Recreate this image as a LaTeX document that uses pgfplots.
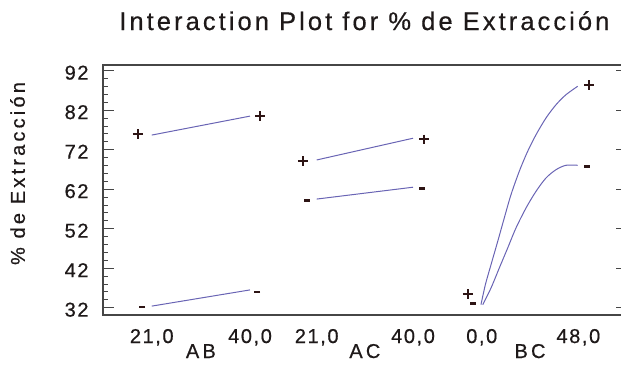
\documentclass[border=0pt]{standalone}
\usepackage{fontspec}
\setmainfont{Liberation Sans}
\newfontfamily\spfont[LetterSpace=8,FakeBold=0.6]{Liberation Sans}
\newfontfamily\titlefont[LetterSpace=12,FakeBold=0.5]{Liberation Sans}
\newfontfamily\labfont[LetterSpace=16,FakeBold=0.6]{Liberation Sans}
\usepackage{pgfplots}
\pgfplotsset{compat=1.18}
\definecolor{curve}{RGB}{105,100,180}
\definecolor{framec}{RGB}{70,70,70}
\definecolor{mk}{RGB}{45,20,20}
\definecolor{txt}{RGB}{30,25,25}
\begin{document}
\begin{tikzpicture}
\path[use as bounding box] (0,0) rectangle (621bp,366bp);
\begin{axis}[
  at={(102.7bp,51bp)}, anchor=south west,
  scale only axis, width=519.3bp, height=250bp,
  xmin=-0.503, xmax=4.8236, ymin=30.15, ymax=93.44,
  clip=false,
  axis line style={framec, line width=1.6bp},
  ytick={32,42,...,92}, minor y tick num=4,
  ytick pos=left,
  major tick length=11bp, minor tick length=5bp,
  every tick/.style={framec, line width=0.9bp},
  /pgf/number format/assume math mode=true,
  yticklabel style={font=\spfont\fontsize{20bp}{24bp}\selectfont, text=txt, anchor=east, inner sep=0pt, xshift=-14bp, yshift=-2bp},
  xtick={0,1.008,1.692,2.680,3.385,4.376},
  xticklabels={{21,0},{40,0},{21,0},{40,0},{0,0},{48,0}},
  xtick style={draw=none},
  xticklabel style={font=\spfont\fontsize{20bp}{24bp}\selectfont, text=txt, anchor=base, inner sep=0pt, yshift=-28bp},
  title={Interaction Plot for \% de Extracción},
  title style={font=\titlefont\fontsize{25.5bp}{30bp}\selectfont, text=txt, anchor=base, inner sep=0pt, at={(0.5,1)}, yshift=29bp, xshift=2bp},
  ylabel={\% de Extracción},
  ylabel style={font=\labfont\fontsize{20bp}{24bp}\selectfont, text=txt, at={(axis description cs:-0.164,0.566)}, anchor=center, inner sep=0pt},
]
% AB
\addplot[curve, line width=1bp] coordinates {(0,75.7) (1.008,80.5)};
\addplot[curve, line width=1bp] coordinates {(0,32.4) (1.008,36.5)};
% AC
\addplot[curve, line width=1bp] coordinates {(1.692,69.4) (2.680,74.9)};
\addplot[curve, line width=1bp] coordinates {(1.692,59.5) (2.680,62.5)};
% BC
\addplot[curve, line width=1bp, smooth] coordinates {
 (3.377,32.76) (3.422,37.82) (3.480,42.89) (3.549,48.81) (3.616,54.71)
 (3.685,60.61) (3.770,66.53) (3.856,71.59) (3.942,75.80) (4.044,80.03)
 (4.147,83.39) (4.249,85.92) (4.369,88.05)};
\addplot[curve, line width=1bp, smooth] coordinates {
 (3.395,32.76) (3.480,36.99) (3.565,42.05) (3.651,47.11) (3.736,52.18)
 (3.839,57.24) (3.942,61.47) (4.044,64.84) (4.147,66.94) (4.249,68.05) (4.369,68.05)};
% plus markers
\addplot[only marks, mark=+, mark size=4.8bp, mk, line width=2bp] coordinates {
 (-0.144,75.9) (1.111,80.5) (1.549,69.1) (2.793,74.6) (3.241,35.5) (4.488,88.4)};
% minus markers
\addplot[only marks, mark=-, mark size=3bp, mk, line width=2.4bp] coordinates {
 (-0.099,32.1) (1.080,35.9) (1.590,59.1) (2.772,62.2) (3.292,33.1) (4.462,67.7)};
\node[font=\labfont\fontsize{20bp}{24bp}\selectfont, text=txt, anchor=base, inner sep=0pt] at (axis cs:0.504,30.15) [yshift=-43bp] {AB};
\node[font=\labfont\fontsize{20bp}{24bp}\selectfont, text=txt, anchor=base, inner sep=0pt] at (axis cs:2.186,30.15) [yshift=-43bp] {AC};
\node[font=\labfont\fontsize{20bp}{24bp}\selectfont, text=txt, anchor=base, inner sep=0pt] at (axis cs:3.880,30.15) [yshift=-43bp] {BC};
\end{axis}
\begin{axis}[
  at={(102.7bp,51bp)}, anchor=south west,
  scale only axis, width=519.3bp, height=250bp,
  xmin=-0.503, xmax=4.8236, ymin=30.15, ymax=93.44,
  hide x axis, axis y line*=right,
  ytick={32,42,...,92}, yticklabels={},
  major tick length=6bp,
  y axis line style={draw=none},
  every tick/.style={framec, line width=0.9bp},
]
\addplot[draw=none] coordinates {(0,50)};
\end{axis}
\end{tikzpicture}
\end{document}
